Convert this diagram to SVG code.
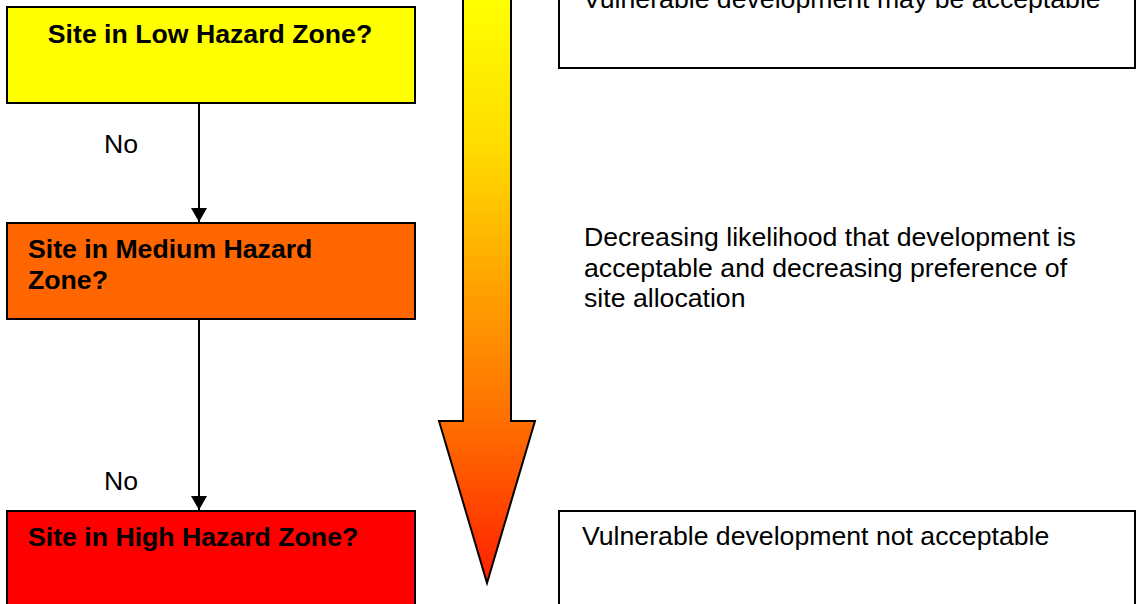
<svg xmlns="http://www.w3.org/2000/svg" width="1140" height="604" viewBox="0 0 1140 604">
  <style>
    .box { stroke: #000; stroke-width: 2; }
    .bold { font-family: "Liberation Sans", Arial, sans-serif; font-weight: bold; font-size: 26.67px; fill: #000; }
    .reg { font-family: "Liberation Sans", Arial, sans-serif; font-size: 26.67px; fill: #000; }
    .conn { stroke: #000; stroke-width: 2; fill: none; marker-end: url(#ah); }
  </style>
  <defs>
    <marker id="ah" markerUnits="userSpaceOnUse" markerWidth="14" markerHeight="16" viewBox="0 0 14 16" refX="14" refY="8" orient="auto">
      <path d="M0,0 L14,8 L0,16 z" fill="#000"/>
    </marker>
    <linearGradient id="grad" gradientUnits="userSpaceOnUse" x1="0" y1="0" x2="0" y2="583">
      <stop offset="0" stop-color="#FFFF00"/>
      <stop offset="0.25" stop-color="#FFDC00"/>
      <stop offset="0.5" stop-color="#FFA000"/>
      <stop offset="0.72" stop-color="#FF7000"/>
      <stop offset="1" stop-color="#FF2000"/>
    </linearGradient>
  </defs>
  <rect width="1140" height="604" fill="#fff"/>

  <g id="trend-arrow">
    <polygon points="463,-5 511,-5 511,421 535,421 487,583 439,421 463,421" fill="url(#grad)" stroke="#000" stroke-width="2" stroke-linejoin="miter"/>
  </g>

  <g id="low">
    <rect class="box" x="7" y="7" width="408" height="96" fill="#FFFF00"/>
    <text class="bold" x="210" y="43" text-anchor="middle">Site in Low Hazard Zone?</text>
  </g>

  <g id="medium">
    <rect class="box" x="7" y="223" width="408" height="96" fill="#FF6600"/>
    <text class="bold" x="28" y="258">Site in Medium Hazard</text>
    <text class="bold" x="28" y="288.5">Zone?</text>
  </g>

  <g id="high">
    <rect class="box" x="7" y="511" width="408" height="110" fill="#FF0000"/>
    <text class="bold" x="28" y="546">Site in High Hazard Zone?</text>
  </g>

  <g id="low-outcome">
    <rect class="box" x="559" y="-30" width="576" height="98" fill="#fff"/>
    <text class="reg" x="583" y="7.5">Vulnerable development may be acceptable</text>
  </g>

  <g id="trend-label">
    <text class="reg" x="584" y="246">Decreasing likelihood that development is</text>
    <text class="reg" x="584" y="276.5">acceptable and decreasing preference of</text>
    <text class="reg" x="584" y="307">site allocation</text>
  </g>

  <g id="high-outcome">
    <rect class="box" x="559" y="511" width="576" height="110" fill="#fff"/>
    <text class="reg" x="582" y="545">Vulnerable development not acceptable</text>
  </g>

  <g id="connectors">
    <line class="conn" x1="199" y1="103" x2="199" y2="222"/>
    <line class="conn" x1="199" y1="319" x2="199" y2="510"/>
    <text class="reg" x="104" y="153">No</text>
    <text class="reg" x="104" y="490">No</text>
  </g>
</svg>
